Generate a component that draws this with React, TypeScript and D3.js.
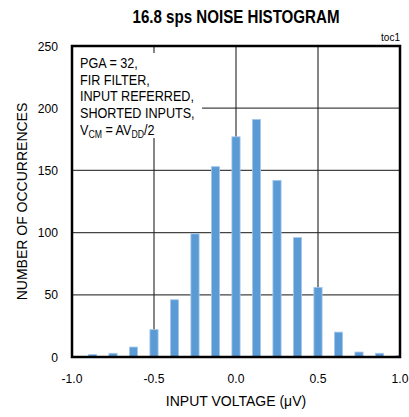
import React from "react";
import * as d3 from "d3";

const binCenters = [-0.875, -0.75, -0.625, -0.5, -0.375, -0.25, -0.125, 0, 0.125, 0.25, 0.375, 0.5, 0.625, 0.75, 0.875, 1.0];
const counts = [2, 3, 8, 22, 46, 99, 153, 177, 191, 142, 96, 56, 20, 4, 3, 1];
const xTicks = [-1.0, -0.5, 0.0, 0.5, 1.0];
const yTicks = [0, 50, 100, 150, 200, 250];
const noteLines = ["PGA = 32,", "FIR FILTER,", "INPUT REFERRED,", "SHORTED INPUTS,"];

const W = 409, H = 417;
const L = 72, R = 400, T = 46, B = 357;
const FONT = "'Liberation Sans', Arial, sans-serif";

export default function App() {
  const x = d3.scaleLinear().domain([-1, 1]).range([L, R]);
  const y = d3.scaleLinear().domain([0, 250]).range([B, T]);
  const bw = x(0.025) - x(-0.025);
  return (
    <svg width={W} height={H} style={{ position: "absolute", left: 0, top: 0, background: "#fff" }} fontFamily={FONT}>
      <defs>
        <clipPath id="plot">
          <rect x={L} y={T} width={R - L} height={B - T} />
        </clipPath>
      </defs>
      <text x={236} y={23} textAnchor="middle" fontWeight="bold" fontSize={18} textLength={207} lengthAdjust="spacingAndGlyphs" fill="#000">16.8 sps NOISE HISTOGRAM</text>
      <text x={400} y={41} textAnchor="end" fontSize={10} fill="#000">toc1</text>
      {/* grid */}
      {yTicks.slice(1, -1).map((t) => (
        <line key={"h" + t} x1={L} x2={R} y1={y(t)} y2={y(t)} stroke="#444" strokeWidth={1.2} />
      ))}
      {xTicks.slice(1, -1).map((t) => (
        <line key={"v" + t} x1={x(t)} x2={x(t)} y1={T} y2={B} stroke="#222" strokeWidth={1.1} />
      ))}
      {/* note background */}
      <rect x={L + 1} y={53} width={129} height={85} fill="#fff" />
      <g fontSize={14.5} fill="#000" transform="translate(80,0) scale(0.87,1)">
        {noteLines.map((s, i) => (
          <text key={s} x={0} y={68 + i * 16.7}>{s}</text>
        ))}
        <text x={0} y={68 + 4 * 16.7}>
          V<tspan fontSize={10} dy={3}>CM</tspan><tspan dy={-3}> = AV</tspan><tspan fontSize={10} dy={3}>DD</tspan><tspan dy={-3}>/2</tspan>
        </text>
      </g>
      {/* bars */}
      <g clipPath="url(#plot)">
        {binCenters.map((c, i) => (
          <rect key={c} x={x(c) - bw / 2} y={y(counts[i])} width={bw} height={B - y(counts[i])} fill="#5B9BD5" stroke="#A8C8EC" strokeWidth={0.8} />
        ))}
      </g>
      {/* frame */}
      <rect x={L} y={T} width={R - L} height={B - T} fill="none" stroke="#000" strokeWidth={2.5} />
      {/* y ticks */}
      {yTicks.map((t) => (
        <g key={"yl" + t} transform={`translate(58, ${y(t) + 4.5}) scale(0.9,1)`}>
          <text x={0} y={0} textAnchor="end" fontSize={13.5} fill="#000">{t}</text>
        </g>
      ))}
      {xTicks.map((t) => (
        <g key={"xl" + t} transform={`translate(${x(t)}, 383) scale(0.9,1)`}>
          <text x={0} y={0} textAnchor="middle" fontSize={13.5} fill="#000">{t.toFixed(1)}</text>
        </g>
      ))}
      <text x={236} y={406} textAnchor="middle" fontSize={14} fill="#000">INPUT VOLTAGE (μV)</text>
      <text transform={`translate(27, ${(T + B) / 2}) rotate(-90)`} textAnchor="middle" fontSize={14} fill="#000">NUMBER OF OCCURRENCES</text>
    </svg>
  );
}
